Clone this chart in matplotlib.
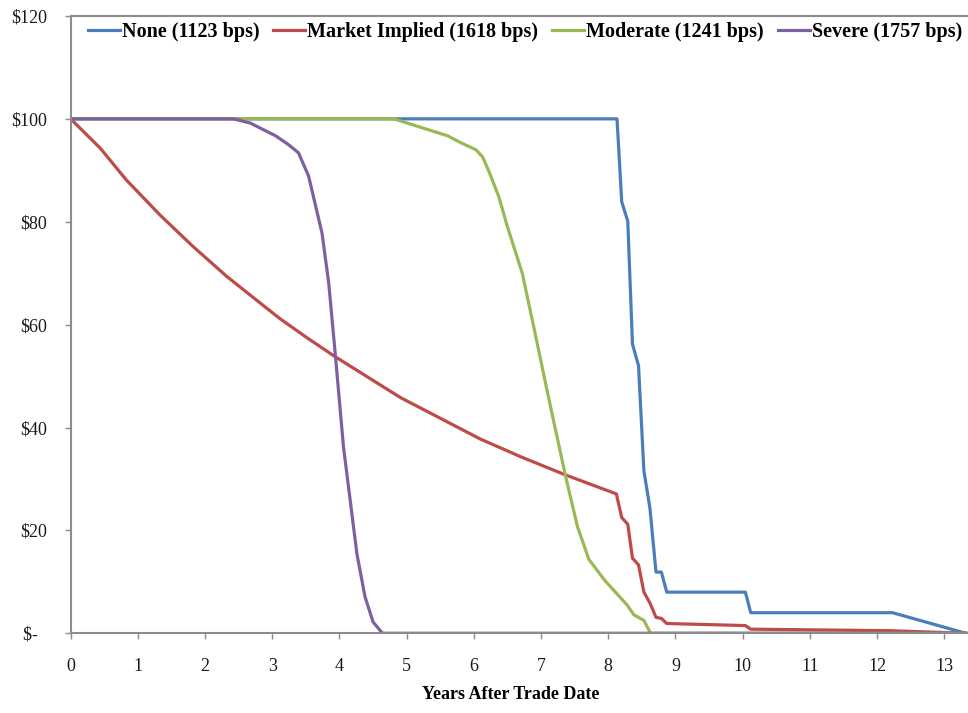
import matplotlib
matplotlib.use("Agg")
import matplotlib.pyplot as plt

# values (years, price)
none_t = [0, 8.13, 8.20, 8.29, 8.36, 8.45, 8.53, 8.62, 8.71, 8.79, 8.87, 10.04, 10.12, 12.23, 13.32]
none_v = [100, 100, 83.9, 80.1, 56.2, 52.0, 31.6, 24.3, 11.9, 11.9, 8.0, 8.0, 4.0, 4.0, 0]

market_t = [0, 0.44, 0.83, 1.33, 1.82, 2.32, 2.82, 3.11, 3.5, 3.92, 4.91, 5.5, 6.09, 6.7,
            7.36, 8.12, 8.20, 8.29, 8.36, 8.45, 8.53, 8.62, 8.71, 8.79, 8.87, 10.04, 10.12,
            12.2, 13.32]
market_v = [100, 94.3, 88.1, 81.3, 75.2, 69.4, 64.2, 61.2, 57.6, 53.9, 45.8, 41.8, 37.8, 34.3,
            30.8, 27.1, 22.5, 21.2, 14.6, 13.3, 8.0, 5.9, 3.1, 2.9, 1.9, 1.5, 0.8,
            0.5, 0]

moderate_t = [0, 4.81, 5.61, 5.80, 6.03, 6.13, 6.23, 6.37, 6.50, 6.72, 6.89, 7.12, 7.36, 7.54,
              7.71, 7.94, 8.28, 8.38, 8.53, 8.63, 13.32]
moderate_v = [100, 100, 96.7, 95.4, 94.0, 92.6, 89.6, 84.9, 79.0, 70.0, 59.6, 45.3, 30.8, 20.8,
              14.4, 10.4, 5.5, 3.6, 2.5, 0, 0]

severe_t = [0, 2.42, 2.67, 3.05, 3.24, 3.39, 3.54, 3.74, 3.84, 3.94, 4.06, 4.16, 4.26,
            4.38, 4.50, 4.64, 13.32]
severe_v = [100, 100, 99.2, 96.7, 95.0, 93.4, 88.9, 77.8, 68.1, 53.9, 36.2, 25.8, 15.4,
            7.1, 2.2, 0, 0]

series = [
    ("None (1123 bps)", none_t, none_v, "#4A7EBB"),
    ("Market Implied (1618 bps)", market_t, market_v, "#BE4B48"),
    ("Moderate (1241 bps)", moderate_t, moderate_v, "#98B954"),
    ("Severe (1757 bps)", severe_t, severe_v, "#7D60A0"),
]

y_ticks = [0, 20, 40, 60, 80, 100, 120]
y_labels = ["$-  ", "$20", "$40", "$60", "$80", "$100", "$120"]
x_ticks = list(range(14))

plt.rcParams["font.family"] = ["Liberation Serif", "DejaVu Serif"]

fig = plt.figure(figsize=(9.68, 7.13), dpi=100)
ax = fig.add_axes([0.073, 0.1118, 0.9268, 0.8658])

for label, t, v, color in series:
    ax.plot(t, v, color=color, lw=2.3, label=label, solid_joinstyle="round")

ax.set_xlim(0, 13.35)
ax.set_ylim(0, 120)
ax.set_xticks(x_ticks)
ax.set_yticks(y_ticks)
ax.set_yticklabels(y_labels)

for side in ["left", "bottom", "top"]:
    ax.spines[side].set_color("#8C8C8C")
    ax.spines[side].set_linewidth(1.5)
ax.spines["right"].set_visible(False)

ax.tick_params(axis="both", direction="out", length=4, width=1, color="#8C8C8C",
               labelsize=13, labelcolor="#1a1a1a")
ax.tick_params(axis="x", pad=14)
ax.tick_params(axis="y", pad=13)

ax.set_xlabel("Years After Trade Date", fontsize=13, fontweight="bold")
ax.xaxis.set_label_coords(0.49, -0.0854)
ax.xaxis.label.set_va("top")

leg = ax.legend(loc="center left", bbox_to_anchor=(0.019, 0.974), ncol=4, frameon=False,
                borderaxespad=0, borderpad=0, handlelength=1.6, handletextpad=0.08,
                columnspacing=0.7, prop={"size": 14.5, "weight": "bold"})

fig.savefig("out.png", dpi=100)
